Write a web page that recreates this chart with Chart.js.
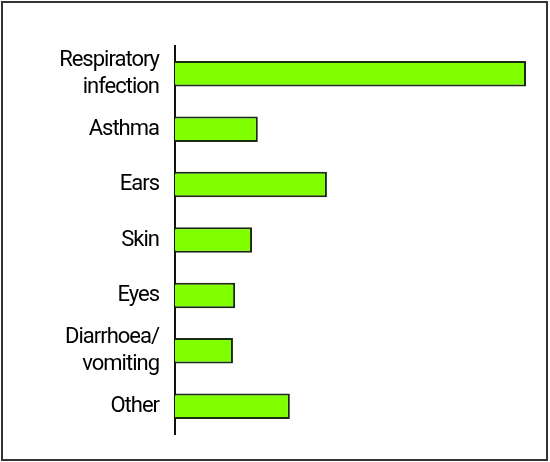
<!DOCTYPE html>
<html>
<head>
<meta charset="utf-8">
<script src="https://cdn.jsdelivr.net/npm/chart.js@4"></script>
<style>
  html, body { margin: 0; padding: 0; background: #fff; }
  #wrap { width: 550px; height: 462px; }
</style>
</head>
<body>
<div id="wrap"><canvas id="myChart" width="550" height="462"></canvas></div>
<script>
// categories, top to bottom
const categories = [
  ['Respiratory', 'infection'],
  'Asthma',
  'Ears',
  'Skin',
  'Eyes',
  ['Diarrhoea/', 'vomiting'],
  'Other'
]
// bar lengths (relative units)
const values = [97.5, 23, 42.2, 21.4, 16.7, 16.1, 31.9]
const xMax = 100

// outer frame round the picture, plus slightly tighter lettering
const frame = {
  id: 'frame',
  beforeDraw: function(chart) {
    if ('letterSpacing' in chart.ctx) chart.ctx.letterSpacing = '-1px'
  },
  afterDraw: function(chart) {
    let ctx = chart.ctx
    ctx.save()
    ctx.strokeStyle = '#333'
    ctx.lineWidth = 2
    ctx.strokeRect(2, 2, chart.width - 5, chart.height - 4)
    ctx.restore()
  }
}

const ctx = document.getElementById('myChart')
const myChart = new Chart(ctx, {
  type: 'bar',
  data: {
    labels: categories,
    datasets: [{
      data: values,
      backgroundColor: '#7fff00',
      borderColor: '#1b2a12',
      borderWidth: 2,
      borderSkipped: 'left',
      barPercentage: 0.46,
      categoryPercentage: 1
    }]
  },
  options: {
    indexAxis: 'y',
    responsive: false,
    animation: false,
    layout: {
      padding: { top: 46, bottom: 28, right: 15, left: 0 }
    },
    plugins: {
      legend: { display: false },
      tooltip: { enabled: false }
    },
    scales: {
      x: {
        display: false,
        min: 0,
        max: xMax
      },
      y: {
        afterFit: function(scale) {
          scale.width = 175
          // labels sit inside the bands, no extra room needed above/below
          scale.paddingTop = 0
          scale.paddingBottom = 0
        },
        grid: { display: false },
        border: { display: true, color: '#111', width: 2 },
        ticks: {
          autoSkip: false,
          color: '#000',
          padding: 8,
          font: {
            family: 'Roboto, sans-serif',
            size: 22,
            lineHeight: 1.24
          }
        }
      }
    }
  },
  plugins: [frame]
})
</script>
</body>
</html>
